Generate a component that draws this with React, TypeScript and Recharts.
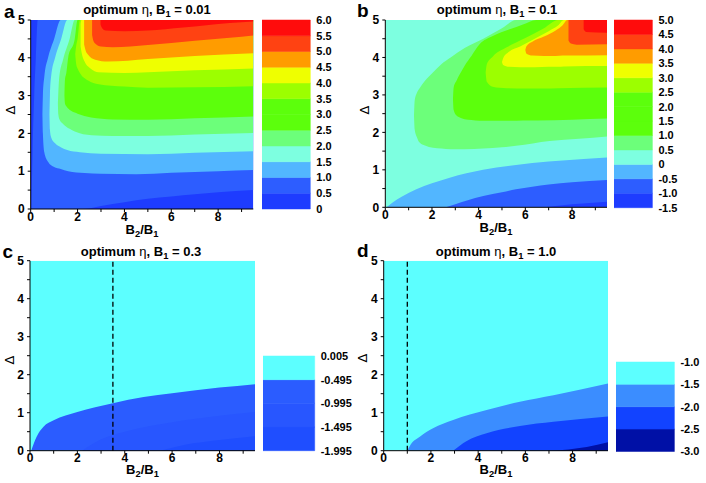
import React from 'react';
import { ComposedChart, Area, XAxis, YAxis, ReferenceLine, ReferenceArea } from 'recharts';

type Pt = [number, number, number]; // [x, lower Δ, upper Δ]

const FONT = '"Liberation Sans", Arial, Helvetica, sans-serif';

const xTicks = [0, 1, 2, 3, 4, 5, 6, 7, 8, 9];
const yTicks = [0, 0.5, 1, 1.5, 2, 2.5, 3, 3.5, 4, 4.5, 5];

// colours
const darkBlue = '#1e3cff';
const blue = '#2d5dff';
const lightBlue = '#52b6ff';
const aqua = '#7dffe0';
const lightGreen = '#6cff7a';
const green = '#5cff0c';
const yellowGreen = '#9cff00';
const yellow = '#efff00';
const orange = '#ff9c00';
const redOrange = '#ff4212';
const red = '#ff0c0c';
const cyan = '#5cffff';
const cBlue1 = '#2b5cff';
const cBlue2 = '#2856ff';
const cBlue3 = '#1f4eff';
const dBlue1 = '#3b8dff';
const dBlue2 = '#1243ff';
const dBlue3 = '#0010a6';

// ---------- panel a (B1 = 0.01): regions η ≥ level ----------
const aBase: Pt[] = [[0, 0, 5], [9.5, 0, 5]];
const a05: Pt[] = [[0.03, 0, 0], [0.08, 0, 1.5], [0.15, 0, 3], [0.22, 0, 4], [0.3, 0, 5], [2.2, 0, 5], [3, 0.08, 5], [4, 0.18, 5], [5, 0.27, 5], [6, 0.33, 5], [7, 0.39, 5], [8, 0.44, 5], [9.5, 0.5, 5]];
const a10: Pt[] = [[0.5, 2.5, 2.5], [0.52, 2.0, 3.0], [0.58, 1.5, 3.5], [0.74, 1.25, 4.0], [1.0, 1.11, 4.5], [1.28, 1.06, 5], [1.6, 1.0, 5], [2.3, 0.95, 5], [3, 0.93, 5], [4.5, 0.92, 5], [6, 0.96, 5], [8, 1.0, 5], [9.5, 1.03, 5]];
const a15: Pt[] = [[0.8, 2.5, 2.5], [0.82, 2.1, 3.0], [0.87, 1.9, 3.5], [1.04, 1.74, 4.0], [1.3, 1.63, 4.5], [1.56, 1.56, 5], [2.1, 1.5, 5], [3, 1.46, 5], [5, 1.45, 5], [7, 1.49, 5], [9.5, 1.53, 5]];
const a20: Pt[] = [[1.16, 2.8, 2.8], [1.18, 2.5, 3.1], [1.22, 2.38, 3.5], [1.38, 2.25, 3.95], [1.66, 2.12, 4.5], [1.88, 2.05, 5], [2.6, 1.95, 5], [3.5, 1.93, 5], [5, 1.93, 5], [7, 1.97, 5], [9.5, 2.01, 5]];
const a25: Pt[] = [[1.44, 3.0, 3.0], [1.46, 2.8, 3.4], [1.52, 2.72, 3.6], [1.6, 2.66, 4.0], [1.88, 2.55, 4.5], [2.0, 2.52, 5], [2.58, 2.42, 5], [3.5, 2.37, 5], [5, 2.36, 5], [7, 2.4, 5], [9.5, 2.45, 5]];
const a35: Pt[] = [[1.9, 4.1, 4.1], [1.95, 3.8, 4.35], [2.0, 3.72, 4.5], [2.1, 3.6, 5], [2.45, 3.4, 5], [2.9, 3.3, 5], [4, 3.24, 5], [5, 3.21, 5], [7, 3.22, 5], [9.5, 3.25, 5]];
const a40: Pt[] = [[2.13, 4.3, 4.9], [2.17, 4.15, 5], [2.3, 3.9, 5], [2.55, 3.72, 5], [2.9, 3.62, 5], [4, 3.6, 5], [5, 3.62, 5], [7, 3.67, 5], [9.5, 3.72, 5]];
const a45: Pt[] = [[2.28, 4.35, 5], [2.35, 4.18, 5], [2.45, 4.08, 5], [2.75, 3.95, 5], [3.3, 3.9, 5], [5, 3.97, 5], [7, 4.05, 5], [9.5, 4.12, 5]];
const a50: Pt[] = [[2.62, 4.6, 5], [2.66, 4.48, 5], [2.75, 4.38, 5], [3.0, 4.3, 5], [3.5, 4.28, 5], [5, 4.34, 5], [7, 4.45, 5], [8.5, 4.53, 5], [9.5, 4.59, 5]];
const a55: Pt[] = [[2.98, 4.88, 5], [3.05, 4.78, 5], [3.2, 4.72, 5], [4.0, 4.7, 5], [5.0, 4.72, 5], [6.5, 4.8, 5], [8.5, 4.92, 5], [9.5, 4.96, 5]];

// ---------- panel b (B1 = 0.1) ----------
const bBase: Pt[] = [[0, 0, 5], [9.5, 0, 5]];
const bLe0: Pt[] = [[0.05, 0, 0], [0.3, 0, 0.12], [0.7, 0, 0.28], [1.33, 0, 0.48], [2, 0, 0.64], [2.76, 0, 0.79], [4.19, 0, 1.0], [5.6, 0, 1.13], [7, 0, 1.22], [8.5, 0, 1.29], [9.5, 0, 1.33]];
const bLeM05: Pt[] = [[2.6, 0, 0], [3, 0, 0.08], [3.5, 0, 0.18], [4.2, 0, 0.3], [5, 0, 0.4], [5.6, 0, 0.48], [7, 0, 0.61], [8, 0, 0.67], [9.5, 0, 0.73]];
const bLeM10: Pt[] = [[6.8, 0, 0], [8, 0, 0.08], [9.5, 0, 0.15]];
const b05: Pt[] = [[1.23, 2.44, 2.44], [1.26, 2.08, 2.85], [1.35, 1.88, 3.05], [1.47, 1.73, 3.18], [1.7, 1.65, 3.38], [2.04, 1.59, 3.6], [2.4, 1.57, 3.82], [2.8, 1.55, 4.0], [3.4, 1.55, 4.25], [4.2, 1.57, 4.5], [5.0, 1.6, 4.78], [5.6, 1.64, 5], [7.04, 1.77, 5], [8.3, 1.83, 5], [9.5, 1.89, 5]];
const b10: Pt[] = [[2.9, 2.88, 2.88], [2.93, 2.6, 3.2], [3.05, 2.45, 3.38], [3.19, 2.4, 3.55], [3.4, 2.35, 3.78], [3.69, 2.33, 4.04], [4.04, 2.31, 4.35], [4.61, 2.31, 4.57], [5.33, 2.31, 4.75], [5.9, 2.32, 4.88], [6.47, 2.32, 5], [8, 2.34, 5], [9.5, 2.37, 5]];
const b25: Pt[] = [[4.3, 3.6, 3.6], [4.35, 3.35, 3.82], [4.6, 3.22, 4.02], [5.2, 3.18, 4.27], [6.0, 3.17, 4.52], [6.8, 3.17, 4.78], [7.4, 3.18, 5], [9.5, 3.2, 5]];
const b30: Pt[] = [[5.0, 3.88, 3.88], [5.05, 3.8, 3.98], [5.3, 3.75, 4.15], [5.8, 3.74, 4.3], [6.4, 3.74, 4.5], [7.0, 3.75, 4.7], [7.4, 3.75, 4.85], [7.65, 3.76, 5], [9.5, 3.77, 5]];
const b35: Pt[] = [[6.0, 4.2, 4.2], [6.05, 4.1, 4.3], [6.3, 4.05, 4.42], [6.8, 4.04, 4.56], [7.3, 4.04, 4.72], [7.6, 4.05, 4.86], [7.8, 4.05, 5], [9.5, 4.06, 5]];
const b40: Pt[] = [[7.85, 4.45, 5], [7.95, 4.37, 5], [8.2, 4.34, 5], [9.5, 4.35, 5]];
const b45: Pt[] = [[8.5, 4.75, 5], [8.6, 4.68, 5], [9.5, 4.66, 5]];

// ---------- panel c (B1 = 0.3) ----------
const cBase: Pt[] = [[0, 0, 5], [9.5, 0, 5]];
const c1: Pt[] = [[0.05, 0, 0], [0.28, 0, 0.37], [0.57, 0, 0.63], [1, 0, 0.8], [2, 0, 1.02], [3.5, 0, 1.25], [4.8, 0, 1.41], [6, 0, 1.51], [8, 0, 1.66], [9.5, 0, 1.75]];
const c2: Pt[] = [[2.2, 0, 0], [3, 0, 0.3], [4, 0, 0.5], [6, 0, 0.75], [8, 0, 0.92], [9.5, 0, 1.02]];
const c3: Pt[] = [[5.5, 0, 0], [6.5, 0, 0.15], [8, 0, 0.28], [9.5, 0, 0.38]];

// ---------- panel d (B1 = 1.0) ----------
const dBase: Pt[] = [[0, 0, 5], [9.5, 0, 5]];
const d1: Pt[] = [[1.0, 0, 0], [1.15, 0, 0.17], [1.53, 0, 0.37], [2.09, 0, 0.59], [2.94, 0, 0.81], [4.36, 0, 1.07], [5.77, 0, 1.29], [7.19, 0, 1.46], [9.5, 0, 1.77]];
const d2: Pt[] = [[2.94, 0, 0], [3.5, 0, 0.25], [4.36, 0, 0.46], [5.77, 0, 0.65], [7.19, 0, 0.76], [9.5, 0, 0.9]];
const d3: Pt[] = [[7.05, 0, 0], [8.6, 0, 0.1], [9.5, 0, 0.22]];

// colour bar levels
const levelsA = [0, 0.5, 1, 1.5, 2, 2.5, 3, 3.5, 4, 4.5, 5, 5.5, 6];
const coloursA = [darkBlue, blue, lightBlue, aqua, lightGreen, green, green, yellowGreen, yellow, orange, redOrange, red];
const levelsB = [-1.5, -1, -0.5, 0, 0.5, 1, 1.5, 2, 2.5, 3, 3.5, 4, 4.5, 5];
const coloursB = [darkBlue, blue, lightBlue, aqua, lightGreen, green, green, green, yellowGreen, yellow, orange, redOrange, red];
const levelsC = [-1.995, -1.495, -0.995, -0.495, 0.005];
const coloursC = [cBlue3, cBlue2, cBlue1, cyan];
const levelsD = [-3, -2.5, -2, -1.5, -1];
const coloursD = [dBlue3, dBlue2, dBlue1, cyan];

const regionsA = [
  { pts: aBase, color: darkBlue }, { pts: a05, color: blue }, { pts: a10, color: lightBlue },
  { pts: a15, color: aqua }, { pts: a20, color: lightGreen }, { pts: a25, color: green },
  { pts: a35, color: yellowGreen }, { pts: a40, color: yellow }, { pts: a45, color: orange },
  { pts: a50, color: redOrange }, { pts: a55, color: red },
];
const regionsB = [
  { pts: bBase, color: aqua }, { pts: bLe0, color: lightBlue }, { pts: bLeM05, color: blue },
  { pts: bLeM10, color: darkBlue }, { pts: b05, color: lightGreen }, { pts: b10, color: green },
  { pts: b25, color: yellowGreen }, { pts: b30, color: yellow }, { pts: b35, color: orange },
  { pts: b40, color: redOrange }, { pts: b45, color: red },
];
const regionsC = [
  { pts: cBase, color: cyan }, { pts: c1, color: cBlue1 }, { pts: c2, color: cBlue2 }, { pts: c3, color: cBlue3 },
];
const regionsD = [
  { pts: dBase, color: cyan }, { pts: d1, color: dBlue1 }, { pts: d2, color: dBlue2 }, { pts: d3, color: dBlue3 },
];

const tickStyle = { fill: '#000', fontSize: 12, fontWeight: 700, fontFamily: FONT };

type PlotProps = {
  left: number; top: number; width: number; height: number;
  margin: { top: number; right: number; bottom: number; left: number };
  yw: number; regions: { pts: Pt[]; color: string }[]; dashX?: number;
};

function Plot({ left, top, width, height, margin, yw, regions, dashX }: PlotProps) {
  return (
    <div style={{ position: 'absolute', left, top, width, height }}>
      <ComposedChart width={width} height={height} margin={margin}>
        {regions.map((r, i) => (
          <Area
            key={i}
            data={r.pts.map(([x, lo, hi]) => ({ x, v: [lo, hi] }))}
            dataKey="v"
            type="monotone"
            fill={r.color}
            fillOpacity={1}
            stroke="none"
            dot={false}
            activeDot={false}
            isAnimationActive={false}
          />
        ))}
        {dashX !== undefined && (
          <ReferenceLine x={dashX} stroke="#000" strokeWidth={1.3} strokeDasharray="5 3" />
        )}
        <XAxis
          type="number"
          dataKey="x"
          domain={[0, 9.5]}
          allowDataOverflow
          ticks={xTicks}
          interval={0}
          tickFormatter={(v: number) => (v % 2 === 0 ? String(v) : '')}
          tick={tickStyle}
          tickSize={3}
          tickMargin={0}
          height={30}
          axisLine={{ stroke: '#000' }}
          tickLine={{ stroke: '#000' }}
        />
        <YAxis
          type="number"
          domain={[0, 5]}
          allowDataOverflow
          ticks={yTicks}
          interval={0}
          tickFormatter={(v: number) => (Number.isInteger(v) ? String(v) : '')}
          tick={tickStyle}
          tickSize={3}
          tickMargin={3}
          width={yw}
          axisLine={{ stroke: '#000' }}
          tickLine={{ stroke: '#000' }}
        />
      </ComposedChart>
    </div>
  );
}

type BarProps = {
  left: number; top: number; barWidth: number; height: number; mt: number; mb: number;
  levels: number[]; colours: string[]; fmt: (v: number) => string;
};

function ColourBar({ left, top, barWidth, height, mt, mb, levels, colours, fmt }: BarProps) {
  const labelW = 45;
  return (
    <div style={{ position: 'absolute', left, top }}>
      <ComposedChart
        width={barWidth + labelW}
        height={height}
        margin={{ top: mt, bottom: mb, left: 0, right: 0 }}
        data={[{ x: 0 }, { x: 1 }]}
      >
        {colours.map((c, i) => (
          <ReferenceArea key={i} y1={levels[i]} y2={levels[i + 1]} fill={c} fillOpacity={1} stroke={c} strokeWidth={0.5} />
        ))}
        <XAxis type="number" dataKey="x" domain={[0, 1]} hide />
        <YAxis
          orientation="right"
          type="number"
          domain={[levels[0], levels[levels.length - 1]]}
          allowDataOverflow
          ticks={levels}
          interval={0}
          width={labelW}
          axisLine={false}
          tickLine={false}
          tickSize={0}
          tickMargin={6}
          tickFormatter={fmt}
          tick={{ fill: '#000', fontSize: 11, fontWeight: 700, fontFamily: FONT }}
        />
      </ComposedChart>
    </div>
  );
}

const fmt1 = (v: number) => (v === 0 ? '0' : v.toFixed(1));
const fmt3 = (v: number) => v.toFixed(3);

const subStyle: React.CSSProperties = { fontSize: '0.72em', position: 'relative', top: 3, lineHeight: 0 };

function Title({ cx, top, b1 }: { cx: number; top: number; b1: string }) {
  return (
    <div style={{ position: 'absolute', left: cx - 120, top, width: 240, textAlign: 'center', fontFamily: FONT, fontWeight: 700, fontSize: 13, lineHeight: '13px', whiteSpace: 'nowrap' }}>
      optimum <span style={{ fontWeight: 400 }}>η</span>, B<span style={subStyle}>1</span> = {b1}
    </div>
  );
}

function XLabel({ cx, top }: { cx: number; top: number }) {
  return (
    <div style={{ position: 'absolute', left: cx - 40, top, width: 80, textAlign: 'center', fontFamily: FONT, fontWeight: 700, fontSize: 13, lineHeight: '11px' }}>
      B<span style={subStyle}>2</span>/B<span style={subStyle}>1</span>
    </div>
  );
}

function DeltaLabel({ cx, cy }: { cx: number; cy: number }) {
  return (
    <div style={{ position: 'absolute', left: cx - 10, top: cy - 10, width: 20, height: 20, lineHeight: '20px', textAlign: 'center', fontFamily: '"DejaVu Sans", sans-serif', fontSize: 13, transform: 'rotate(-90deg)' }}>
      Δ
    </div>
  );
}

function Letter({ left, top, ch }: { left: number; top: number; ch: string }) {
  return (
    <div style={{ position: 'absolute', left, top, fontFamily: FONT, fontWeight: 700, fontSize: 19, lineHeight: '19px' }}>{ch}</div>
  );
}

export default function App() {
  return (
    <div style={{ position: 'absolute', left: 0, top: 0, width: 706, height: 483, background: '#fff', overflow: 'hidden' }}>
      <Plot left={0} top={0} width={260} height={240} margin={{ top: 20, right: 6.7, bottom: 1, left: 0 }} yw={30.7} regions={regionsA} />
      <Plot left={353} top={0} width={260} height={240} margin={{ top: 20, right: 6, bottom: 2.7, left: 0 }} yw={32.3} regions={regionsB} />
      <Plot left={0} top={240} width={260} height={243} margin={{ top: 20.7, right: 5, bottom: 2.3, left: 0 }} yw={30} regions={regionsC} dashX={3.5} />
      <Plot left={353} top={240} width={260} height={243} margin={{ top: 20.7, right: 5, bottom: 2.3, left: 0 }} yw={30.7} regions={regionsD} dashX={1.0} />

      <ColourBar left={261.7} top={0} barWidth={48.3} height={240} mt={20} mb={31} levels={levelsA} colours={coloursA} fmt={fmt1} />
      <ColourBar left={614.3} top={0} barWidth={38.4} height={240} mt={20} mb={32.3} levels={levelsB} colours={coloursB} fmt={fmt1} />
      <ColourBar left={263.3} top={240} barWidth={51.7} height={243} mt={116} mb={32.3} levels={levelsC} colours={coloursC} fmt={fmt3} />
      <ColourBar left={616.3} top={240} barWidth={58.4} height={243} mt={122} mb={31.5} levels={levelsD} colours={coloursD} fmt={fmt1} />

      <Title cx={147} top={2.5} b1="0.01" />
      <Title cx={497} top={2.5} b1="0.1" />
      <Title cx={141} top={245} b1="0.3" />
      <Title cx={496} top={245} b1="1.0" />

      <XLabel cx={142} top={224} />
      <XLabel cx={496} top={222.3} />
      <XLabel cx={142.5} top={463.7} />
      <XLabel cx={496} top={463.7} />

      <DeltaLabel cx={10.5} cy={110} />
      <DeltaLabel cx={364.5} cy={110} />
      <DeltaLabel cx={10} cy={360} />
      <DeltaLabel cx={363} cy={357.5} />

      <Letter left={4} top={2.2} ch="a" />
      <Letter left={357} top={0.6} ch="b" />
      <Letter left={2.5} top={242.2} ch="c" />
      <Letter left={357} top={240.6} ch="d" />
    </div>
  );
}
